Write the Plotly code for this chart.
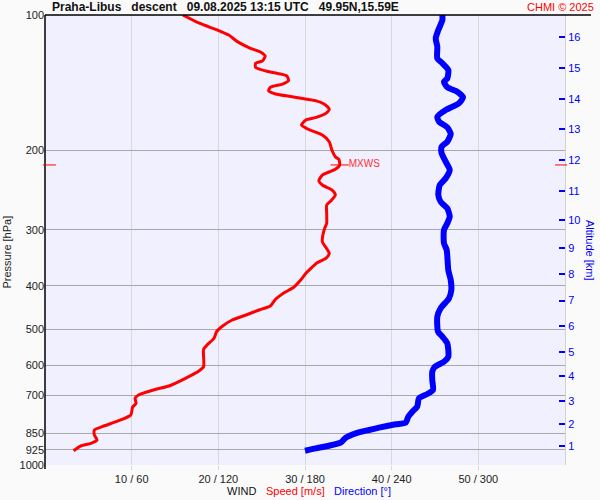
import plotly.graph_objects as go

# ---------------- data ----------------
title_text = "Praha-Libus\u00a0\u00a0\u00a0descent\u00a0\u00a0\u00a009.08.2025 13:15 UTC\u00a0\u00a0\u00a049.95N,15.59E"
credit_text = "CHMI © 2025"
axis_title_parts = ["WIND", "Speed [m/s]", "Direction [°]"]

# wind speed profile (m/s) vs pressure (hPa)
speed_p = [100, 104.3, 108.0, 110.8, 114.6, 118.6, 121.0, 123.4, 126.4, 128.0,
           130.7, 133.2, 134.8, 136.6, 140.0, 142.4, 144.8, 147.3, 149.8, 151.9,
           153.5, 155.0, 157.7, 161.8, 165.4, 169.1, 171.1, 175.6, 179.2, 184.8,
           191.2, 199.5, 206.5, 209.3, 215.4, 220.2, 226.8, 233.5, 238.7, 244.8,
           251.2, 258.6, 264.4, 275.9, 290.3, 300.5, 319.0, 328.2, 338.5, 347.2,
           355.1, 363.6, 375.0, 388.1, 402.8, 414.1, 428.3, 443.3, 452.4, 464.2,
           476.2, 491.0, 505.6, 522.9, 541.2, 553.2, 604.7, 617.2, 641.7, 667.4,
           678.8, 698.9, 710.8, 729.2, 744.3, 774.3, 797.2, 822.0, 836.0, 857.7,
           879.9, 894.9, 907.4, 929.5]
speed_ms = [15.9, 17.8, 19.9, 21.2, 22.2, 23.7, 24.9, 25.4, 25.1, 24.3,
            24.3, 25.5, 26.8, 27.9, 28.1, 27.4, 26.0, 25.8, 26.6, 28.5,
            29.9, 31.2, 32.2, 32.8, 32.4, 31.2, 30.1, 29.6, 30.3, 32.0,
            32.8, 33.1, 33.5, 33.9, 34.0, 33.5, 32.0, 31.6, 32.0, 33.1,
            33.5, 33.0, 32.5, 32.5, 32.5, 32.2, 32.0, 32.4, 32.8, 32.4,
            31.4, 30.8, 30.1, 29.5, 28.7, 27.6, 26.6, 26.0, 24.7, 23.2,
            21.6, 20.5, 19.8, 19.5, 18.7, 18.3, 18.3, 17.8, 16.2, 14.3,
            12.8, 10.8, 10.4, 10.5, 10.1, 9.9, 8.5, 6.6, 5.7, 5.7,
            6.0, 5.3, 4.1, 3.3]

# wind direction profile (deg) vs pressure (hPa)
dir_p = [100, 102.6, 108.0, 112.7, 117.6, 124.8, 128.0, 132.5, 138.3, 140.7,
         144.8, 148.1, 152.4, 157.1, 162.6, 168.3, 172.6, 177.7, 183.8, 191.2,
         196.2, 202.9, 211.8, 221.0, 230.6, 238.7, 251.2, 260.0, 268.9, 280.7,
         290.3, 300.5, 321.6, 332.8, 368.7, 388.1, 408.4, 426.2, 448.5, 468.2,
         505.6, 518.7, 536.5, 574.6, 589.5, 604.7, 620.3, 647.3, 681.3, 695.3,
         710.8, 742.0, 761.3, 781.0, 805.4, 812.0, 826.2, 836.0, 850.3, 869.6,
         892.2, 906.0, 918.2, 929.5]
dir_deg = [275.1, 275.1, 272.3, 270.5, 271.6, 271.6, 275.1, 279.2, 278.5, 276.2,
           278.5, 285.4, 289.4, 286.6, 277.4, 271.6, 272.8, 278.5, 280.9, 278.5,
           274.6, 274.6, 277.4, 280.2, 277.4, 273.3, 272.3, 273.9, 278.5, 280.2,
           278.5, 276.2, 276.2, 278.1, 279.2, 280.9, 281.3, 279.7, 273.9, 271.6,
           272.1, 275.1, 278.5, 279.2, 276.2, 270.0, 268.1, 268.1, 268.6, 264.7,
           258.9, 257.7, 254.3, 251.5, 249.7, 242.8, 231.2, 224.3, 215.1, 208.2,
           204.7, 196.6, 187.4, 180.0]

pressure_ticks = [100, 200, 300, 400, 500, 600, 700, 850, 925, 1000]
wind_ticks = [10, 20, 30, 40, 50]
wind_ticklabels = ["10 / 60", "20 / 120", "30 / 180", "40 / 240", "50 / 300"]
alt_km = list(range(1, 17))
alt_p = [909, 812, 720, 634, 562, 491, 431, 377, 330, 285.5,
         246, 210, 179.5, 153.7, 131.4, 112.1]

# ---------------- figure ----------------
FONT = "Liberation Sans, Arial, Helvetica, sans-serif"

imax = max(range(len(speed_ms)), key=lambda i: speed_ms[i])
vmax, pmax = speed_ms[imax], speed_p[imax]

fig = go.Figure()
fig.add_trace(go.Scatter(x=dir_deg, y=dir_p, xaxis="x2", yaxis="y2", mode="lines",
                         line=dict(color="#0000ff", width=6, shape="spline", smoothing=0.6),
                         hoverinfo="skip"))
fig.add_trace(go.Scatter(x=speed_ms, y=speed_p, xaxis="x", yaxis="y", mode="lines",
                         line=dict(color="#ff0000", width=3, shape="spline", smoothing=0.6),
                         hoverinfo="skip"))
fig.add_trace(go.Scatter(x=[vmax], y=[pmax], xaxis="x", yaxis="y", mode="markers+text",
                         marker=dict(symbol="line-ew", size=13, color="#ff0000",
                                     line=dict(color="#ff0000", width=1)),
                         text=["MXWS"], textposition="middle right",
                         textfont=dict(color="#ff3030", size=10, family=FONT),
                         hoverinfo="skip", cliponaxis=False))

fig.update_layout(
    width=600, height=500,
    margin=dict(l=45, r=35, t=15, b=35, autoexpand=False),
    paper_bgcolor="#fafafa", plot_bgcolor="#f0f0ff",
    showlegend=False,
    font=dict(family=FONT, size=11, color="#333333"),
    xaxis=dict(range=[0, 60], tickvals=wind_ticks, ticktext=wind_ticklabels,
               showgrid=True, gridcolor="#d8d8d8", gridwidth=1, zeroline=False,
               showline=False, ticks="outside", ticklen=4, tickcolor="#d8d8d8",
               tickfont=dict(color="#222222", size=11), automargin=False),
    xaxis2=dict(range=[0, 360], overlaying="x", visible=False, automargin=False),
    yaxis=dict(type="log", range=[3, 2], tickvals=pressure_ticks,
               ticktext=[str(v) for v in pressure_ticks],
               showgrid=True, gridcolor="#a8a8a8", gridwidth=1, zeroline=False,
               showline=False, ticks="", tickfont=dict(color="#222222", size=11),
               automargin=False),
    yaxis2=dict(type="log", range=[3, 2], overlaying="y", side="right",
                tickvals=alt_p, ticktext=[str(k) for k in alt_km],
                tickfont=dict(color="#0000ff", size=11), ticks="inside", ticklen=6,
                tickcolor="#0000ff", tickwidth=1.5, showgrid=False, zeroline=False,
                showline=True, linecolor="#d0d0d0", linewidth=1, automargin=False),
)

shapes = [
    # top frame line (extends to the right past the plot)
    dict(type="line", xref="paper", yref="paper", x0=0, x1=1.05, y0=1, y1=1,
         line=dict(color="black", width=1.5)),
    # left frame line
    dict(type="line", xref="paper", yref="paper", x0=0, x1=0, y0=1, y1=-0.009,
         line=dict(color="black", width=1.5)),
    # MXWS edge markers
    dict(type="line", xref="paper", yref="y", x0=-0.004, x1=0.021, y0=pmax, y1=pmax,
         line=dict(color="#ff0000", width=1)),
    dict(type="line", xref="paper", yref="y", x0=0.981, x1=1.004, y0=pmax, y1=pmax,
         line=dict(color="#ff0000", width=1)),
]
fig.update_layout(shapes=shapes)

annotations = [
    dict(text="<b>" + title_text + "</b>", xref="paper", yref="paper",
         x=0.0096, y=1.0167, xanchor="left", yanchor="middle", showarrow=False,
         font=dict(size=12, color="#111111", family=FONT)),
    dict(text=credit_text, xref="paper", yref="paper", x=1.0596, y=1.0167,
         xanchor="right", yanchor="middle", showarrow=False,
         font=dict(size=11, color="#ff0000", family=FONT)),
    dict(text="Pressure [hPa]", xref="paper", yref="paper", x=-0.0721, y=0.4733,
         xanchor="center", yanchor="middle", textangle=-90, showarrow=False,
         font=dict(size=11, color="#222222", family=FONT)),
    dict(text="Altitude [km]", xref="paper", yref="paper", x=1.048, y=0.4756,
         xanchor="center", yanchor="middle", textangle=90, showarrow=False,
         font=dict(size=11, color="#0000ff", family=FONT)),
    dict(text=axis_title_parts[0], xref="paper", yref="paper", x=0.3462, y=-0.0578,
         xanchor="left", yanchor="middle", showarrow=False,
         font=dict(size=11, color="#111111", family=FONT)),
    dict(text=axis_title_parts[1], xref="paper", yref="paper", x=0.4212, y=-0.0578,
         xanchor="left", yanchor="middle", showarrow=False,
         font=dict(size=11, color="#ff0000", family=FONT)),
    dict(text=axis_title_parts[2], xref="paper", yref="paper", x=0.5519, y=-0.0578,
         xanchor="left", yanchor="middle", showarrow=False,
         font=dict(size=11, color="#0000ff", family=FONT)),
]
fig.update_layout(annotations=annotations)

fig.write_html("out.html",
               config={"displayModeBar": False},
               post_script="document.body.style.margin='0';"
                           "document.body.style.overflow='hidden';")
